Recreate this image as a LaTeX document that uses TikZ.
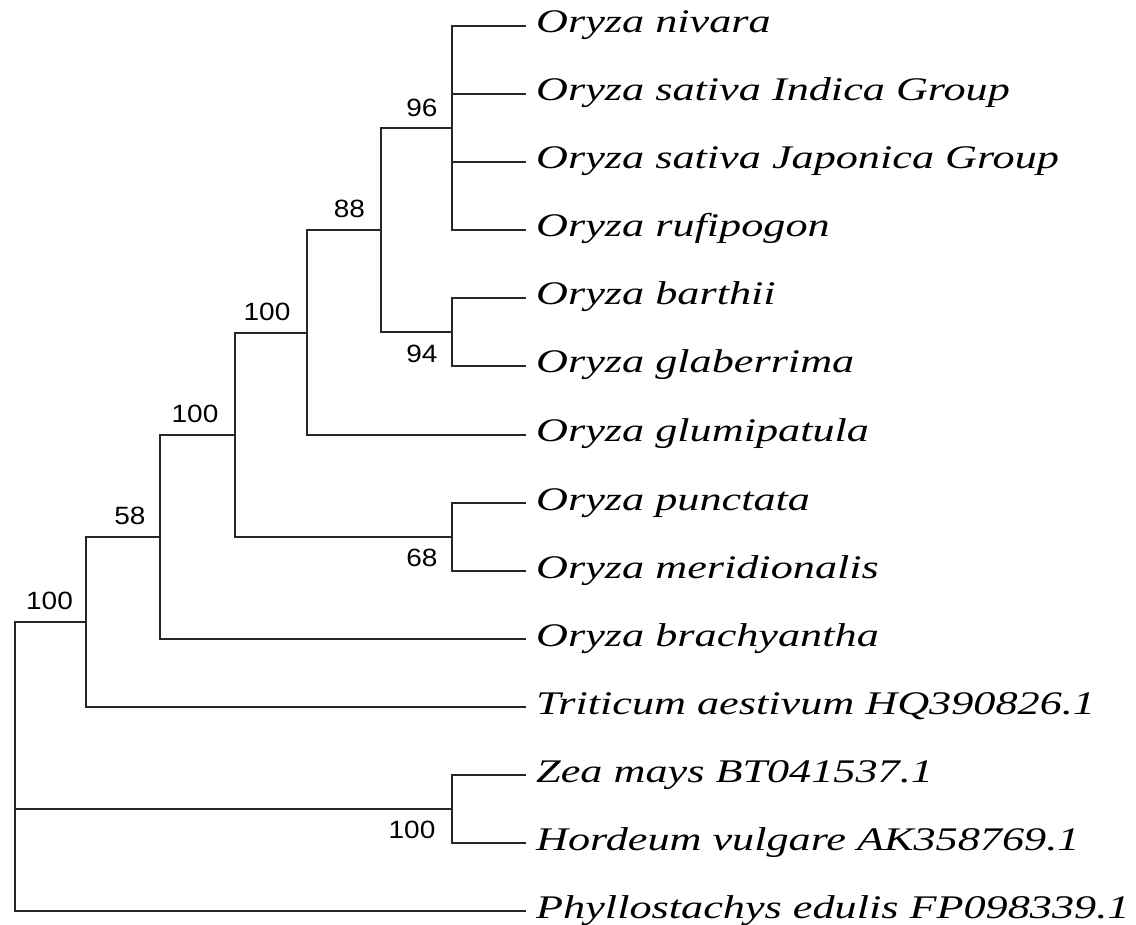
\documentclass[tikz,border=0pt]{standalone}
\usepackage{fontspec}
\usetikzlibrary{calc}
\newfontfamily\leaffont[FakeStretch=1.34]{Liberation Serif}
\newfontfamily\numfont[FakeStretch=1.12]{Liberation Sans}
\begin{document}
\begin{tikzpicture}[x=1pt,y=-1pt,
  branch/.style={draw=black!85,line width=2pt,line cap=rect},
  leaf/.style={anchor=base west,inner sep=0pt,font=\leaffont\itshape\fontsize{33}{33}\selectfont},
  boot/.style={inner sep=0pt,font=\numfont\fontsize{25}{25}\selectfont}]
\useasboundingbox (0,0) rectangle (1136,925);
% tip coordinates
\foreach \i/\y in {1/26,2/94,3/162,4/230,5/298,6/366,7/435,8/503,9/571,10/639,11/707,12/775,13/843,14/911}{
  \coordinate (t\i) at (525,\y);
}
% leaf labels
\foreach \i/\txt in {1/Oryza nivara,2/Oryza sativa Indica Group,3/Oryza sativa Japonica Group,4/Oryza rufipogon,5/Oryza barthii,6/Oryza glaberrima,7/Oryza glumipatula,8/Oryza punctata,9/Oryza meridionalis,10/Oryza brachyantha,11/Triticum aestivum HQ390826.1,12/Zea mays BT041537.1,13/Hordeum vulgare AK358769.1,14/Phyllostachys edulis FP098339.1}{
  \node[leaf] (l\i) at ($(t\i)+(11,7)$) {\txt};
}
% internal nodes
\coordinate (n96) at (452,128);
\coordinate (n94) at (452,332);
\coordinate (n88) at (381,230);
\coordinate (n100a) at (307,333);
\coordinate (n68) at (452,537);
\coordinate (n100b) at (235,435);
\coordinate (n58) at (160,537);
\coordinate (n100c) at (86,622);
\coordinate (nzh) at (452,809);
\coordinate (root) at (15,622);
% branches
\draw[branch] (n96) |- (t1) (n96) |- (t2) (n96) |- (t3) (n96) |- (t4);
\draw[branch] (n94) |- (t5) (n94) |- (t6);
\draw[branch] (n88) |- (n96) (n88) |- (n94);
\draw[branch] (n100a) |- (n88) (n100a) |- (t7);
\draw[branch] (n68) |- (t8) (n68) |- (t9);
\draw[branch] (n100b) |- (n100a) (n100b) |- (n68);
\draw[branch] (n58) |- (n100b) (n58) |- (t10);
\draw[branch] (n100c) |- (n58) (n100c) |- (t11);
\draw[branch] (nzh) |- (t12) (nzh) |- (t13);
\draw[branch] (root) |- (n100c) (root) |- (nzh) (root) |- (t14);
% bootstrap values
\node[boot] (b96) at (422,108) {96};
\node[boot] (b88) at (349.5,209) {88};
\node[boot] (b100a) at (267,312) {100};
\node[boot] (b94) at (422,354) {94};
\node[boot] (b68) at (422,558) {68};
\node[boot] (b100b) at (195,414) {100};
\node[boot] (b58) at (130,516) {58};
\node[boot] (b100c) at (49.5,601) {100};
\node[boot] (b100d) at (412,830) {100};
\end{tikzpicture}
\end{document}
